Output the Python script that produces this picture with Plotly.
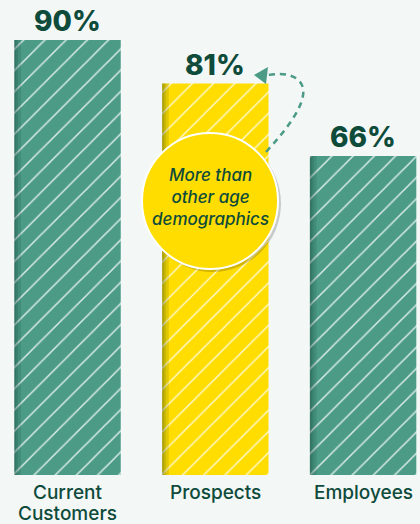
import plotly.graph_objects as go

categories = ["Current<br>Customers", "Prospects", "Employees"]
values = [90, 81, 66]
labels = ["90%", "81%", "66%"]
bar_colors = ["#4b9b87", "#ffdd00", "#4b9b87"]
callout_text = "<i>More than<br>other age<br>demographics</i>"

W, H = 420, 524
B = 49
PH = H - B  # plot height in px
BAR_W = 0.72


def px(x):
    return x / W


def py(y):
    return (PH - y) / PH


DARK = "#0e4b3b"
BG = "#f3f7f6"

fig = go.Figure()
for i, (v, c) in enumerate(zip(values, bar_colors)):
    fig.add_trace(go.Bar(
        x=[i], y=[v], width=BAR_W,
        marker=dict(
            color=c,
            line=dict(width=0),
            pattern=dict(shape="/", fillmode="overlay", bgcolor=c, fgcolor="#ffffff",
                         fgopacity=0.8, size=15, solidity=0.1),
        ),
        hoverinfo="skip",
    ))

# soft inner shadow along the left edge of each bar
for sw in (0.012, 0.025, 0.045):
    fig.add_trace(go.Bar(
        x=list(range(len(values))), y=values, width=sw, offset=-BAR_W / 2,
        marker=dict(color="rgba(0,40,30,0.12)", line=dict(width=0)),
        hoverinfo="skip",
    ))

for i, (v, t) in enumerate(zip(values, labels)):
    fig.add_annotation(x=i, y=v, text=t, showarrow=False, yanchor="middle", yshift=19,
                       font=dict(family="Inter", size=28, color=DARK, weight=800))

# category labels (tight line spacing)
for i, cat in enumerate(categories):
    for k, line in enumerate(cat.split("<br>")):
        fig.add_annotation(x=i, xref="x", y=0, yref="paper", text=line, showarrow=False,
                           yanchor="middle", yshift=-17 - 21 * k,
                           font=dict(family="Inter", size=19, color=DARK, weight=500))

shapes = []
# shadow of the callout circle
shapes.append(dict(type="circle", xref="paper", yref="paper",
                   x0=px(144), x1=px(281), y0=py(272), y1=py(135),
                   fillcolor="rgba(0,0,0,0.18)", line=dict(width=0), layer="above"))
shapes.append(dict(type="circle", xref="paper", yref="paper",
                   x0=px(142), x1=px(278), y0=py(269), y1=py(133),
                   fillcolor="#ffdd00", line=dict(width=2, color="white"), layer="above"))


def path_px(pts):
    s = "M %f,%f" % (px(pts[0][0]), py(pts[0][1]))
    rest = pts[1:]
    for k in range(0, len(rest), 3):
        s += " C %f,%f %f,%f %f,%f" % tuple(
            v for p in rest[k:k + 3] for v in (px(p[0]), py(p[1])))
    return s


arc = path_px([(266, 152), (288, 128), (306, 104), (303, 88),
               (300, 76), (286, 72), (268, 75)])
shapes.append(dict(type="path", xref="paper", yref="paper", path=arc,
                   line=dict(color="#4b9b87", width=2.5, dash="6px,5px"), layer="above"))
head = "M %f,%f L %f,%f L %f,%f Z" % (px(254), py(75), px(268), py(67), px(266), py(84))
shapes.append(dict(type="path", xref="paper", yref="paper", path=head,
                   fillcolor="#4b9b87", line=dict(width=0), layer="above"))

fig.add_annotation(xref="paper", yref="paper", x=px(210), y=py(197), text=callout_text,
                   showarrow=False, font=dict(family="Inter", size=17, color=DARK, weight=500),
                   align="center")

fig.update_layout(
    width=W, height=H,
    margin=dict(l=0, r=0, t=0, b=B),
    paper_bgcolor=BG, plot_bgcolor=BG,
    showlegend=False,
    barmode="overlay",
    shapes=shapes,
    xaxis=dict(range=[-0.457, 2.385], showticklabels=False,
               showgrid=False, zeroline=False, showline=False, ticks="", automargin=False),
    yaxis=dict(range=[0, 98.3], visible=False, automargin=False),
)

fig.write_html("out.html")
